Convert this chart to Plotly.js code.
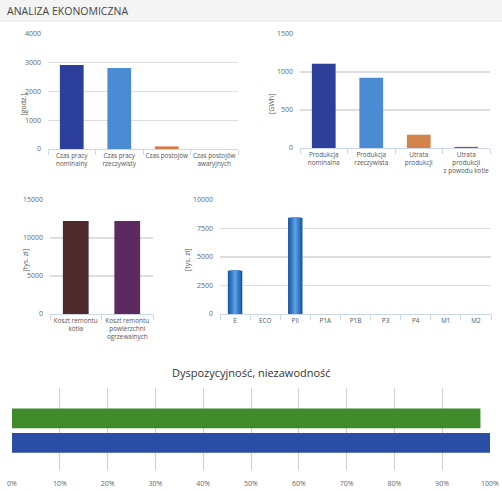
<!DOCTYPE html>
<html>
<head>
<meta charset="utf-8">
<script src="https://cdn.plot.ly/plotly-3.0.1.min.js"></script>
<style>html,body{margin:0;padding:0;background:#fff;}#chart{width:502px;height:491px;}</style>
</head>
<body>
<div id="chart"></div>
<script>
// ---- data ----
const czasCategories = ['Czas pracy<br>nominalny', 'Czas pracy<br>rzeczywisty', 'Czas postojów', 'Czas postojów<br>awaryjnych'];
const czasValues = [2920, 2820, 90, 0];
const czasColors = ['#2b3f9b', '#4b8bd3', '#d27a42', '#c4472b'];

const prodCategories = ['Produkcja<br>nominalna', 'Produkcja<br>rzeczywista', 'Utrata<br>produkcji', 'Utrata<br>produkcji<br>z powodu kotle'];
const prodValues = [1110, 925, 175, 15];
const prodColors = ['#2b3f9b', '#4b8bd3', '#d4844a', '#c4472b'];

const kosztCategories = ['Koszt remontu<br>kotła', 'Koszt remontu<br>powierzchni<br>ogrzewalnych'];
const kosztValues = [12250, 12250];
const kosztColors = ['#4f2a2c', '#5c2a5e'];

const elemCategories = ['E', 'ECO', 'PII', 'P1A', 'P1B', 'P3', 'P4', 'M1', 'M2'];
const elemValues = [3800, 0, 8450, 0, 0, 0, 0, 0, 0];

const dyspTitle = 'Dyspozycyjność, niezawodność';
const dyspSeries = ['Niezawodność', 'Dyspozycyjność'];
const dyspValues = [100, 98];
const dyspColors = ['#2a4da5', '#3f8a2b'];

const pctTicks = [0, 10, 20, 30, 40, 50, 60, 70, 80, 90, 100];
const pctLabels = pctTicks.map(v => v + '%');

// ---- helpers ----
const W = 502, H = 491;
const px = x => x / W;
const py = y => 1 - y / H;
const FONT = 'Open Sans, Noto Sans, sans-serif';
const tickFont = {family: FONT, size: 7, color: '#666'};

function barX(domain, cats) {
  return {domain: domain, type: 'category', categoryarray: cats, showline: true, linecolor: '#ccd6eb',
    linewidth: 1, ticks: 'outside', tickson: 'boundaries', ticklen: 5, tickcolor: '#ccd6eb', tickangle: 0,
    showgrid: false, zeroline: false, tickfont: {family: FONT, size: 6.4, color: '#555'}, fixedrange: true};
}
function barY(domain, range, dtick, anchor) {
  return {domain: domain, range: range, dtick: dtick, anchor: anchor, showgrid: true, gridcolor: '#dedede',
    gridwidth: 1.2, zeroline: false, showline: false, ticks: '', tickformat: 'd', tickfont: tickFont,
    ticklabelstandoff: 6, fixedrange: true};
}

const traces = [];
traces.push({type: 'bar', x: czasCategories, y: czasValues, marker: {color: czasColors}, xaxis: 'x', yaxis: 'y', hoverinfo: 'skip'});
traces.push({type: 'bar', x: prodCategories, y: prodValues, marker: {color: prodColors}, xaxis: 'x2', yaxis: 'y2', hoverinfo: 'skip'});
traces.push({type: 'bar', x: kosztCategories, y: kosztValues, marker: {color: kosztColors}, xaxis: 'x3', yaxis: 'y3', hoverinfo: 'skip'});

// cylinder-like gradient by layering narrower, lighter bars
const layers = [
  {w: 0.48, c: '#1d5aa2'},
  {w: 0.40, c: '#2566b3'},
  {w: 0.32, c: '#2f73c0'},
  {w: 0.24, c: '#3b80cb'},
  {w: 0.16, c: '#4a8fd4'},
  {w: 0.08, c: '#5c9edc'}
];
layers.forEach(l => {
  traces.push({type: 'bar', x: elemCategories, y: elemValues, width: l.w, offset: -l.w / 2,
    marker: {color: l.c}, xaxis: 'x4', yaxis: 'y4', hoverinfo: 'skip'});
});

// availability bars
traces.push({type: 'bar', orientation: 'h', y: [dyspTitle], x: [dyspValues[0]], name: dyspSeries[0], width: 0.24, offset: -0.29,
  marker: {color: dyspColors[0]}, xaxis: 'x5', yaxis: 'y5', hoverinfo: 'skip'});
traces.push({type: 'bar', orientation: 'h', y: [dyspTitle], x: [dyspValues[1]], name: dyspSeries[1], width: 0.24, offset: 0.01,
  marker: {color: dyspColors[1]}, xaxis: 'x5', yaxis: 'y5', hoverinfo: 'skip'});

const layout = {
  width: W, height: H, margin: {l: 0, r: 0, t: 0, b: 0}, paper_bgcolor: '#fff', plot_bgcolor: 'rgba(0,0,0,0)',
  showlegend: false, barmode: 'overlay', bargap: 0.5, font: {family: FONT},
  xaxis: barX([px(48), px(238)], czasCategories),
  yaxis: barY([py(149), py(34)], [0, 4000], 1000, 'x'),
  xaxis2: Object.assign(barX([px(300), px(490)], prodCategories), {anchor: 'y2'}),
  yaxis2: barY([py(148), py(34)], [0, 1500], 500, 'x2'),
  xaxis3: Object.assign(barX([px(50), px(153)], kosztCategories), {anchor: 'y3'}),
  yaxis3: barY([py(314), py(200)], [0, 15000], 5000, 'x3'),
  xaxis4: Object.assign(barX([px(220), px(491)], elemCategories), {anchor: 'y4'}),
  yaxis4: barY([py(314), py(200)], [0, 10000], 2500, 'x4'),
  xaxis5: {domain: [px(12), px(490)], anchor: 'y5', range: [0, 100], tickmode: 'array', tickvals: pctTicks, ticktext: pctLabels,
    showgrid: true, gridcolor: '#d0d0d0', zeroline: false, showline: false, ticks: '', tickfont: tickFont, ticklabelstandoff: 8, fixedrange: true},
  yaxis5: {domain: [py(470), py(388)], anchor: 'x5', type: 'category', range: [-0.5, 0.5], showticklabels: false,
    showgrid: false, zeroline: false, showline: false, ticks: '', fixedrange: true},
  shapes: [
    {type: 'rect', xref: 'paper', yref: 'paper', x0: 0, x1: 1, y0: py(21), y1: 1, fillcolor: '#f4f4f4', line: {width: 0}, layer: 'below'},
    {type: 'line', xref: 'paper', yref: 'paper', x0: 0, x1: 1, y0: py(21), y1: py(21), line: {color: '#e4e4e4', width: 1}}
  ],
  annotations: [
    {text: 'ANALIZA EKONOMICZNA', xref: 'paper', yref: 'paper', x: px(5), y: py(11), xanchor: 'left', yanchor: 'middle',
      showarrow: false, font: {family: FONT, size: 10.5, color: '#444'}},
    {text: '[godz.]', xref: 'paper', yref: 'paper', x: px(17), y: py(92), textangle: -90, showarrow: false,
      font: {family: FONT, size: 7, color: '#555'}},
    {text: '[GWh]', xref: 'paper', yref: 'paper', x: px(272), y: py(92), textangle: -90, showarrow: false,
      font: {family: FONT, size: 7, color: '#555'}},
    {text: '[tys. zł]', xref: 'paper', yref: 'paper', x: px(18), y: py(260), textangle: -90, showarrow: false,
      font: {family: FONT, size: 7, color: '#555'}},
    {text: '[tys. zł]', xref: 'paper', yref: 'paper', x: px(187), y: py(260), textangle: -90, showarrow: false,
      font: {family: FONT, size: 7, color: '#555'}},
    {text: dyspTitle, xref: 'paper', yref: 'paper', x: px(251), y: py(372), xanchor: 'center', yanchor: 'middle', showarrow: false,
      font: {family: FONT, size: 11, color: '#333'}}
  ]
};

Plotly.newPlot('chart', traces, layout, {staticPlot: true, displayModeBar: false});
</script>
</body>
</html>
